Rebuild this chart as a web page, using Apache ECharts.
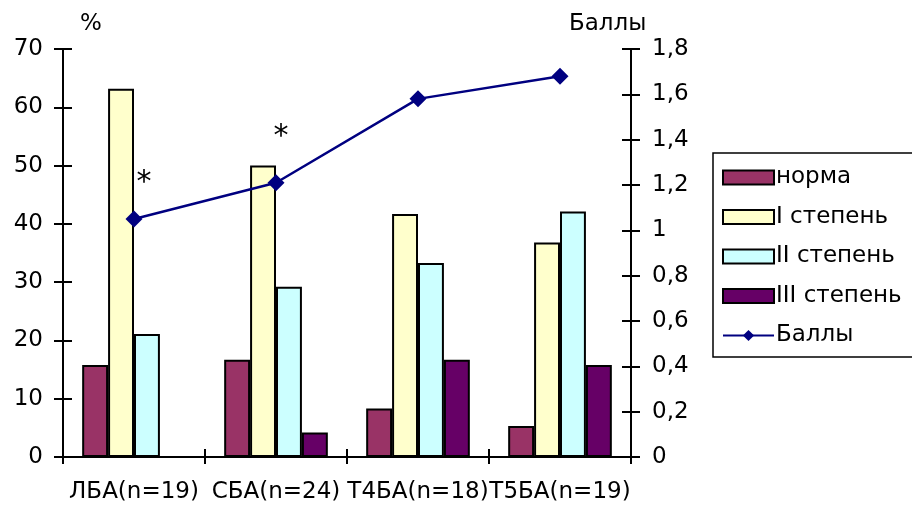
<!DOCTYPE html>
<html>
<head>
<meta charset="utf-8">
<script src="https://cdn.jsdelivr.net/npm/echarts@6/dist/echarts.min.js"></script>
<style>
  html, body { margin: 0; padding: 0; background: #fff; }
  #chart { width: 912px; height: 506px; }
</style>
</head>
<body>
<div id="chart"></div>
<script>
// Groups and their sample sizes
const categories = ['ЛБА(n=19)', 'СБА(n=24)', 'Т4БА(n=18)', 'Т5БА(n=19)'];

// Share of patients by grade, %
const normaValues = [15.8, 16.7, 8.3, 5.3];
const grade1Values = [63.2, 50.0, 41.7, 36.8];
const grade2Values = [21.1, 29.2, 33.3, 42.1];
const grade3Values = [0, 4.2, 16.7, 15.8];

// Mean score
const scoreValues = [1.05, 1.21, 1.58, 1.68];
// Significance marks above the score points
const scoreMarks = ['*', '*', '', ''];

const seriesNames = ['норма', 'I степень', 'II степень', 'III степень', 'Баллы'];

const FONT = '"DejaVu Sans", Verdana, sans-serif';
const FS = 23;
const chart = echarts.init(document.getElementById('chart'), null, { renderer: 'canvas' });

const barStyle = color => ({ color: color, borderColor: '#000', borderWidth: 2 });

function fmtScore(v) {
  const r = Math.round(v * 10) / 10;
  if (Math.abs(r - Math.round(r)) < 1e-9) return String(Math.round(r));
  return r.toFixed(1).replace('.', ',');
}

const markOffsets = [[10, -36], [5, -46]];

const option = {
  animation: false,
  backgroundColor: '#fff',
  textStyle: { fontFamily: FONT },
  grid: { left: 63, right: 281, top: 49, bottom: 49, containLabel: false },
  legend: {
    orient: 'vertical',
    left: 713,
    top: 153,
    padding: [13, 60, 10, 9],
    itemWidth: 51,
    itemHeight: 14,
    itemGap: 16.5,
    borderColor: '#000',
    borderWidth: 1.5,
    textStyle: { fontFamily: FONT, fontSize: FS, color: '#000', lineHeight: 21, padding: [0, 0, 0, -3] },
    data: seriesNames.map((n, i) => (i < 4 ? { name: n, icon: 'rect' } : { name: n }))
  },
  graphic: [
    { type: 'text', left: 80, top: 13, style: { text: '%', font: FS + 'px ' + FONT, fill: '#000' } },
    { type: 'text', left: 569, top: 13, style: { text: 'Баллы', font: FS + 'px ' + FONT, fill: '#000' } }
  ],
  xAxis: [
    {
      type: 'category',
      data: categories,
      axisLine: { lineStyle: { color: '#000', width: 2 } },
      axisTick: { show: true, length: 7, lineStyle: { color: '#000', width: 2 } },
      axisLabel: { fontFamily: FONT, fontSize: FS, color: '#000', margin: 24, interval: 0, hideOverlap: false },
      splitLine: { show: false }
    },
    {
      type: 'category',
      data: categories,
      position: 'bottom',
      axisLine: { show: false },
      axisTick: { show: true, inside: true, length: 8, lineStyle: { color: '#000', width: 2 } },
      axisLabel: { show: false },
      splitLine: { show: false }
    }
  ],
  yAxis: [
    {
      type: 'value', min: 0, max: 70, interval: 10, position: 'left',
      axisLine: { show: true, lineStyle: { color: '#000', width: 2 } },
      axisTick: { show: true, length: 9, lineStyle: { color: '#000', width: 2 } },
      axisLabel: { fontFamily: FONT, fontSize: FS, color: '#000', margin: 20 },
      splitLine: { show: false }
    },
    {
      type: 'value', min: 0, max: 1.8, interval: 0.2, position: 'right',
      axisLine: { show: true, lineStyle: { color: '#000', width: 2 } },
      axisTick: { show: true, length: 9, lineStyle: { color: '#000', width: 2 } },
      axisLabel: { fontFamily: FONT, fontSize: FS, color: '#000', margin: 21, formatter: fmtScore },
      splitLine: { show: false }
    },
    {
      type: 'value', min: 0, max: 70, interval: 10, position: 'left',
      axisLine: { show: false },
      axisTick: { show: true, inside: true, length: 9, lineStyle: { color: '#000', width: 2 } },
      axisLabel: { show: false },
      splitLine: { show: false }
    },
    {
      type: 'value', min: 0, max: 1.8, interval: 0.2, position: 'right',
      axisLine: { show: false },
      axisTick: { show: true, inside: true, length: 9, lineStyle: { color: '#000', width: 2 } },
      axisLabel: { show: false },
      splitLine: { show: false }
    }
  ],
  series: [
    { name: seriesNames[0], type: 'bar', data: normaValues, barGap: '0%', barCategoryGap: '27%', itemStyle: barStyle('#993366') },
    { name: seriesNames[1], type: 'bar', data: grade1Values, barGap: '0%', barCategoryGap: '27%', itemStyle: barStyle('#FFFFCC') },
    { name: seriesNames[2], type: 'bar', data: grade2Values, barGap: '0%', barCategoryGap: '27%', itemStyle: barStyle('#CCFFFF') },
    { name: seriesNames[3], type: 'bar', data: grade3Values, barGap: '0%', barCategoryGap: '27%', itemStyle: barStyle('#660066') },
    {
      name: seriesNames[4], type: 'line', yAxisIndex: 1, z: 5,
      symbol: 'diamond', symbolSize: 17,
      lineStyle: { color: '#000080', width: 2.5 },
      itemStyle: { color: '#000080' },
      data: scoreValues.map((v, i) => ({
        value: v,
        label: scoreMarks[i] ? {
          show: true, formatter: scoreMarks[i], position: 'inside',
          offset: markOffsets[i], fontFamily: FONT, fontSize: 30, color: '#000'
        } : { show: false }
      }))
    }
  ]
};

chart.setOption(option);
</script>
</body>
</html>
